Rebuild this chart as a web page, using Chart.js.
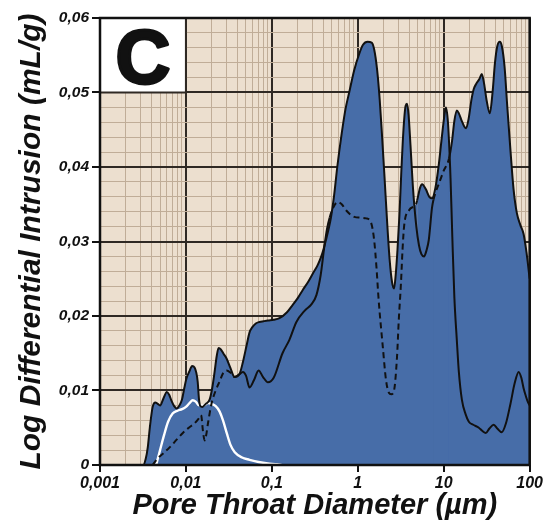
<!DOCTYPE html>
<html>
<head>
<meta charset="utf-8">
<script src="https://cdn.jsdelivr.net/npm/chart.js@4/dist/chart.umd.min.js"></script>
<style>
  html, body { margin: 0; padding: 0; background: #ffffff; }
  #wrap { width: 545px; height: 522px; }
</style>
</head>
<body>
<div id="wrap"><canvas id="chart" width="545" height="522"></canvas></div>
<script>
// Axis ticks
const xTickValues = [0.001, 0.01, 0.1, 1, 10, 100];
const xTickLabels = ['0,001', '0,01', '0,1', '1', '10', '100'];
const yTickValues = [0, 0.01, 0.02, 0.03, 0.04, 0.05, 0.06];
const yTickLabels = ['0', '0,01', '0,02', '0,03', '0,04', '0,05', '0,06'];

// Curve 1 (outer envelope): pore throat diameter (µm) / log differential intrusion (mL/g)
const curve1Diameter = [
  0.0030, 0.00318, 0.0034, 0.0036, 0.0038, 0.0041, 0.0044, 0.0047, 0.0050, 0.0055,
  0.0060, 0.0064, 0.0068, 0.0073, 0.0078, 0.0084, 0.0090, 0.0096, 0.0102, 0.0110,
  0.0118, 0.0126, 0.0132, 0.0137, 0.0142, 0.0147, 0.0155, 0.0170, 0.0189, 0.0202,
  0.0215, 0.0228, 0.0240, 0.0255, 0.0275, 0.0297, 0.0330, 0.0368, 0.0420, 0.0460,
  0.0507, 0.0550, 0.0593, 0.0650, 0.0718, 0.0800, 0.0900, 0.1050, 0.1225, 0.150,
  0.175, 0.200, 0.229, 0.265, 0.300, 0.340, 0.373, 0.400, 0.426, 0.460,
  0.487, 0.530, 0.577, 0.650, 0.720, 0.794, 0.908, 1.04, 1.15, 1.30,
  1.45, 1.55, 1.68, 1.80, 1.92, 2.05, 2.19, 2.35, 2.50, 2.64,
  2.76, 2.90, 3.05, 3.20, 3.40, 3.60, 3.74, 3.90, 4.10, 4.40,
  4.80, 5.15, 5.50, 5.90, 6.30, 6.70, 7.30, 7.60, 8.00, 8.80,
  10.0, 11.5, 12.5, 13.3, 14.2, 15.0, 16.2, 17.4, 18.2, 19.5,
  21.0, 22.4, 24.0, 26.0, 27.7, 29.5, 31.5, 34.4, 37.0, 39.5,
  42.0, 44.9, 47.5, 51.0, 55.0, 60.0, 65.0, 71.0, 78.0, 85.0,
  92.0, 100
];
const curve1Intrusion = [
  0, 0, 0.0008, 0.0024, 0.0050, 0.0078, 0.0084, 0.0082, 0.0080, 0.0090,
  0.0098, 0.0094, 0.0086, 0.0079, 0.0076, 0.0080, 0.0088, 0.0104, 0.0117, 0.0126,
  0.0133, 0.0131, 0.0124, 0.0112, 0.0088, 0.0079, 0.0078, 0.0082, 0.0088, 0.0103,
  0.0124, 0.0146, 0.0157, 0.0155, 0.0149, 0.0143, 0.0130, 0.0118, 0.0122, 0.0138,
  0.0160, 0.0178, 0.0185, 0.0190, 0.0192, 0.0193, 0.0194, 0.0195, 0.0197, 0.0205,
  0.0215, 0.0224, 0.0235, 0.0246, 0.0257, 0.0268, 0.0279, 0.0290, 0.0302, 0.0318,
  0.0332, 0.0362, 0.0400, 0.0445, 0.0478, 0.0500, 0.0530, 0.0552, 0.0564, 0.0568,
  0.0567, 0.0558, 0.0530, 0.0490, 0.0440, 0.0385, 0.0328, 0.0275, 0.0246, 0.0237,
  0.0255, 0.0290, 0.0335, 0.0390, 0.0450, 0.0482, 0.0485, 0.0470, 0.0430, 0.0370,
  0.0320, 0.0295, 0.0283, 0.0280, 0.0288, 0.0302, 0.0345, 0.0356, 0.0365, 0.0378,
  0.0395, 0.0411, 0.0435, 0.0462, 0.0476, 0.0472, 0.0462, 0.0454, 0.0452, 0.0465,
  0.0490, 0.0505, 0.0512, 0.0518, 0.0525, 0.0512, 0.0490, 0.0472, 0.0500, 0.0540,
  0.0562, 0.0568, 0.0562, 0.0535, 0.0480, 0.0420, 0.0370, 0.0338, 0.0322, 0.0310,
  0.0285, 0.0250
];

// Curve 2
const curve2Diameter = [
  0.0041, 0.0047, 0.0055, 0.0065, 0.0078, 0.0092, 0.0108, 0.0126, 0.0140, 0.0150,
  0.0158, 0.0165, 0.0172, 0.0180, 0.0199, 0.0222, 0.0246, 0.0270, 0.0297, 0.0330,
  0.0368, 0.0420, 0.0460, 0.0500, 0.0550, 0.0620, 0.0700, 0.0790, 0.0900, 0.1050,
  0.1330, 0.1600, 0.1930, 0.2400, 0.2900, 0.3300, 0.3700, 0.4100, 0.4400, 0.4700,
  0.5200, 0.5850, 0.6500, 0.7300, 0.9100, 1.0800, 1.2500, 1.4200, 1.5500, 1.6500,
  1.7500, 1.9500, 2.1300, 2.3000, 2.4500, 2.6400, 2.8600, 3.0000, 3.1800, 3.3200,
  3.4700, 3.9500, 4.7500, 4.9000, 5.3000, 5.6000, 6.2000, 6.8000, 7.3000, 8.0000,
  8.8000, 9.4000, 10.000, 10.600, 11.200, 12.000, 12.600, 13.300, 14.200, 15.000,
  16.300, 18.000, 19.600, 22.000, 25.600, 28.000, 30.900, 34.000, 38.200, 42.000,
  47.300, 53.000, 60.000, 67.000, 74.600, 80.000, 85.000, 90.000, 95.000, 100
];
const curve2Intrusion = [
  0, 0.0009, 0.0016, 0.0024, 0.0034, 0.0043, 0.0050, 0.0056, 0.0062, 0.0067,
  0.0045, 0.0033, 0.0040, 0.0055, 0.0083, 0.0100, 0.0112, 0.0123, 0.0127, 0.0124,
  0.0118, 0.0122, 0.0125, 0.0120, 0.0104, 0.0114, 0.0127, 0.0118, 0.0111, 0.0117,
  0.0150, 0.0168, 0.0192, 0.0207, 0.0216, 0.0228, 0.0255, 0.0295, 0.0318, 0.0332,
  0.0346, 0.0353, 0.0350, 0.0342, 0.0333, 0.0332, 0.0331, 0.0326, 0.0302, 0.0265,
  0.0221, 0.0160, 0.0114, 0.0097, 0.0095, 0.0100, 0.0145, 0.0195, 0.0244, 0.0290,
  0.0322, 0.0342, 0.0350, 0.0355, 0.0372, 0.0377, 0.0370, 0.0360, 0.0358, 0.0372,
  0.0405, 0.0435, 0.0462, 0.0480, 0.0460, 0.0385, 0.0305, 0.0225, 0.0168, 0.0125,
  0.0087, 0.0068, 0.0058, 0.0054, 0.0050, 0.0046, 0.0043, 0.0049, 0.0054, 0.0049,
  0.0044, 0.0056, 0.0083, 0.0110, 0.0125, 0.0117, 0.0103, 0.0093, 0.0085, 0.0080
];

// Curve 3 (white)
const curve3Diameter = [
  0.0045, 0.0050, 0.0055, 0.0062, 0.0070, 0.0080, 0.0090, 0.0100, 0.0110, 0.0120,
  0.0130, 0.0142, 0.0160, 0.0180, 0.0200, 0.0222, 0.0246, 0.0270, 0.0300, 0.0330,
  0.0370, 0.0450, 0.0550, 0.0700, 0.0900, 0.1150, 0.1300
];
const curve3Intrusion = [
  0, 0.0020, 0.0038, 0.0058, 0.0069, 0.0073, 0.0075, 0.0078, 0.0083, 0.0087,
  0.0085, 0.0080, 0.0080, 0.0083, 0.0082, 0.0079, 0.0072, 0.0060, 0.0042, 0.0027,
  0.0017, 0.0010, 0.0007, 0.0004, 0.0002, 0.0001, 0
];

// Diameter ranges where each outline is drawn dashed
const curve1DashedRanges = [[7.6, 11.5]];
const curve2DashedRanges = [[0.004, 0.0368], [0.47, 4.9]];

const FONT_FAMILY = "'Liberation Sans', Arial, Helvetica, sans-serif";
const INK = '#111111';
const GRID_MAJOR = '#2f2924';
const GRID_MINOR = '#c0ad98';
const PAPER = '#ecdfcf';
const FILL_BLUE = '#476da8';

const isDecade = v => Math.abs(Math.log10(v) - Math.round(Math.log10(v))) < 1e-6;
const isYMajor = v => Math.abs(v * 100 - Math.round(v * 100)) < 1e-6;

function labelFor(value, values, labels) {
  for (let i = 0; i < values.length; i++) {
    const ref = values[i];
    if (Math.abs(value - ref) <= Math.max(1e-9, Math.abs(ref) * 1e-6)) return labels[i];
  }
  return '';
}

// grid positions: 1..9 × 10^n on the log axis, every 0.002 on the linear axis
function logGridValues(min, max) {
  const out = [];
  for (let e = Math.round(Math.log10(min)); e < Math.round(Math.log10(max)); e++) {
    for (let k = 1; k <= 9; k++) out.push(+(k * Math.pow(10, e)).toPrecision(6));
  }
  out.push(max);
  return out;
}
function linearGridValues(min, max, step) {
  const out = [];
  const n = Math.round((max - min) / step);
  for (let i = 0; i <= n; i++) out.push(+(min + i * step).toFixed(6));
  return out;
}

const dashIn = ranges => ctx => {
  const a = ctx.p0.parsed.x, b = ctx.p1.parsed.x;
  return ranges.some(([lo, hi]) => a >= lo * 0.999 && b <= hi * 1.001) ? [6, 4] : undefined;
};

const toPoints = (xs, ys) => xs.map((x, i) => ({ x, y: ys[i] }));

const paperBackground = {
  id: 'paperBackground',
  beforeDraw(chart) {
    const { ctx, chartArea: a } = chart;
    ctx.save();
    ctx.fillStyle = PAPER;
    ctx.fillRect(a.left, a.top, a.right - a.left, a.bottom - a.top);
    ctx.restore();
  }
};

const panelLetter = {
  id: 'panelLetter',
  beforeDatasetsDraw(chart) {
    const { ctx, scales: { x, y } } = chart;
    const l = x.getPixelForValue(0.001), r = x.getPixelForValue(0.01);
    const t = y.getPixelForValue(0.06), b = y.getPixelForValue(0.05);
    ctx.save();
    ctx.fillStyle = '#ffffff';
    ctx.fillRect(l, t, r - l, b - t);
    ctx.strokeStyle = GRID_MAJOR;
    ctx.lineWidth = 2;
    ctx.strokeRect(l, t, r - l, b - t);
    const size = 76;
    const cx = (l + r) / 2, base = (t + b) / 2 + size * 0.36;
    ctx.fillStyle = INK;
    ctx.strokeStyle = INK;
    ctx.lineWidth = 3;
    ctx.lineJoin = 'round';
    ctx.font = `bold ${size}px ${FONT_FAMILY}`;
    ctx.textAlign = 'center';
    ctx.textBaseline = 'alphabetic';
    ctx.fillText('C', cx, base);
    ctx.strokeText('C', cx, base);
    ctx.restore();
  }
};

const plotFrame = {
  id: 'plotFrame',
  afterDatasetsDraw(chart) {
    const { ctx, chartArea: a } = chart;
    ctx.save();
    ctx.strokeStyle = INK;
    ctx.lineWidth = 2.5;
    ctx.strokeRect(a.left, a.top, a.right - a.left, a.bottom - a.top);
    ctx.restore();
  }
};

const xTickFont = { family: FONT_FAMILY, size: 16, style: 'italic', weight: 'bold' };
const yTickFont = { family: FONT_FAMILY, size: 15.5, style: 'italic', weight: 'bold' };
const xTitleFont = { family: FONT_FAMILY, size: 29, style: 'italic', weight: 'bold', lineHeight: 1 };
const yTitleFont = { family: FONT_FAMILY, size: 30, style: 'italic', weight: 'bold', lineHeight: 1 };

new Chart(document.getElementById('chart'), {
  type: 'line',
  data: {
    datasets: [
      {
        data: toPoints(curve1Diameter, curve1Intrusion),
        borderColor: INK, borderWidth: 2, backgroundColor: FILL_BLUE,
        fill: 'origin', pointRadius: 0, cubicInterpolationMode: 'monotone',
        segment: { borderDash: dashIn(curve1DashedRanges) }
      },
      {
        data: toPoints(curve2Diameter, curve2Intrusion),
        borderColor: INK, borderWidth: 2, backgroundColor: FILL_BLUE,
        fill: 'origin', pointRadius: 0, cubicInterpolationMode: 'monotone',
        segment: { borderDash: dashIn(curve2DashedRanges) }
      },
      {
        data: toPoints(curve3Diameter, curve3Intrusion),
        borderColor: '#ffffff', borderWidth: 2.4, fill: false,
        pointRadius: 0, cubicInterpolationMode: 'monotone'
      }
    ]
  },
  options: {
    responsive: false,
    animation: false,
    devicePixelRatio: 1,
    layout: { padding: { left: 0, right: 14, top: 18, bottom: 0 } },
    plugins: {
      legend: { display: false },
      tooltip: { enabled: false },
      filler: { drawTime: 'beforeDatasetsDraw' }
    },
    scales: {
      x: {
        type: 'logarithmic',
        min: 0.001, max: 100,
        afterBuildTicks: s => { s.ticks = logGridValues(0.001, 100).map(v => ({ value: v, major: isDecade(v) })); },
        afterFit: s => { s.height = 57; },
        border: { display: false },
        grid: {
          color: c => isDecade(c.tick.value) ? GRID_MAJOR : GRID_MINOR,
          lineWidth: c => isDecade(c.tick.value) ? 2 : 1,
          tickColor: c => isDecade(c.tick.value) ? INK : 'rgba(0,0,0,0)',
          tickLength: 7,
          tickWidth: 2
        },
        ticks: {
          autoSkip: false, maxRotation: 0, minRotation: 0, padding: 2,
          color: INK, font: xTickFont,
          callback: v => labelFor(v, xTickValues, xTickLabels)
        },
        title: {
          display: true, text: 'Pore Throat Diameter (µm)', color: INK,
          font: xTitleFont, padding: { top: 0, bottom: 2 }
        }
      },
      y: {
        type: 'linear',
        min: 0, max: 0.06,
        afterBuildTicks: s => { s.ticks = linearGridValues(0, 0.06, 0.002).map(v => ({ value: v })); },
        afterFit: s => { s.width = 100; },
        border: { display: false },
        grid: {
          color: c => isYMajor(c.tick.value) ? GRID_MAJOR : GRID_MINOR,
          lineWidth: c => isYMajor(c.tick.value) ? 2 : 1,
          tickColor: c => isYMajor(c.tick.value) ? INK : 'rgba(0,0,0,0)',
          tickLength: 8,
          tickWidth: 2
        },
        ticks: {
          autoSkip: false, padding: 3,
          color: INK, font: yTickFont,
          callback: v => labelFor(v, yTickValues, yTickLabels)
        },
        title: {
          display: true, text: 'Log Differential Intrusion (mL/g)', color: INK,
          font: yTitleFont, padding: { top: 17, bottom: 0 }
        }
      }
    }
  },
  plugins: [paperBackground, panelLetter, plotFrame]
});
</script>
</body>
</html>
